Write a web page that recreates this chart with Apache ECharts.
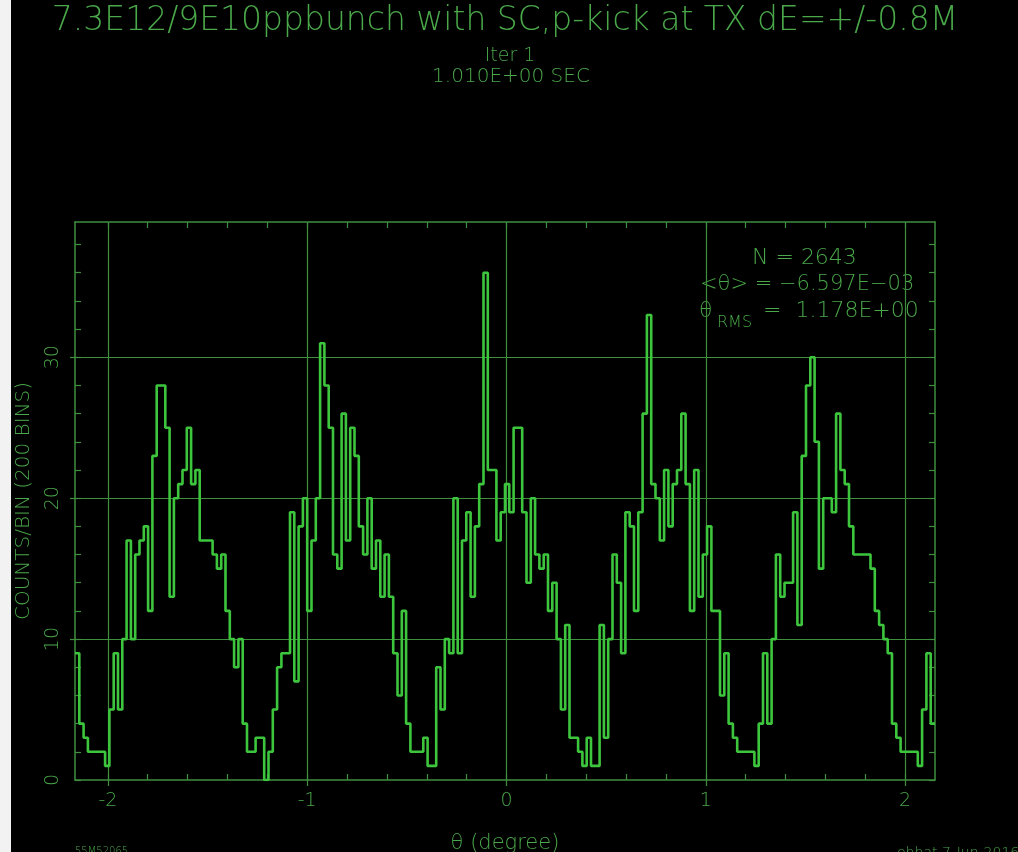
<!DOCTYPE html>
<html>
<head>
<meta charset="utf-8">
<script src="https://cdn.jsdelivr.net/npm/echarts@6/dist/echarts.min.js"></script>
<style>
  html, body { margin: 0; padding: 0; background: #000; overflow: hidden; }
  #chart { width: 1018px; height: 852px; }
</style>
</head>
<body>
<div id="chart"></div>
<script>
// Particle counts per theta bin (200 bins)
const binCounts = [
  9, 4, 3, 2, 2, 2, 2, 1, 5, 9, 5, 10, 17, 10, 16, 17, 18, 12, 23, 28, 28, 25, 13, 20, 21,
  22, 25, 21, 22, 17, 17, 17, 16, 15, 16, 12, 10, 8, 10, 4, 2, 2, 3, 3, 0, 2, 5, 8, 9, 9,
  19, 7, 18, 20, 12, 17, 20, 31, 28, 25, 16, 15, 26, 17, 25, 23, 18, 16, 20, 15, 17, 13, 16, 13, 9,
  6, 12, 4, 2, 2, 2, 3, 1, 1, 8, 5, 10, 9, 20, 9, 17, 19, 13, 18, 21, 36, 22, 22, 17, 19,
  21, 19, 25, 25, 19, 14, 20, 16, 15, 16, 12, 14, 10, 5, 11, 3, 3, 2, 1, 3, 1, 1, 11, 3, 10,
  16, 14, 9, 19, 18, 12, 19, 26, 33, 21, 20, 17, 22, 18, 21, 22, 26, 21, 12, 22, 13, 16, 18, 12, 12,
  6, 9, 4, 3, 2, 2, 2, 2, 1, 4, 9, 4, 10, 16, 13, 14, 14, 19, 11, 23, 28, 30, 24, 15, 20, 20,
  19, 26, 22, 21, 18, 16, 16, 16, 16, 15, 12, 11, 10, 9, 4, 3, 2, 2, 2, 2, 1, 5, 9, 4
];

// Histogram range in theta (degree) and count-axis maximum
const thetaRange = [-2.165, 2.15];
const countMax = 39.6;

// Tick positions
const xMajorTicks = [-2, -1, 0, 1, 2];
const xMinorTicks = [-2, -1.8, -1.6, -1.4, -1.2, -1, -0.8, -0.6, -0.4, -0.2, 0,
                     0.2, 0.4, 0.6, 0.8, 1, 1.2, 1.4, 1.6, 1.8, 2];
const yMajorTicks = [0, 10, 20, 30];
const yGridTicks = [10, 20, 30];
const yMinorTicks = [0, 2, 4, 6, 8, 10, 12, 14, 16, 18, 20, 22, 24, 26, 28, 30, 32, 34, 36, 38];

// Texts
const titleText = '7.3E12/9E10ppbunch with SC,p-kick at TX dE=+/-0.8M';
const iterText = 'Iter 1';
const timeText = '1.010E+00 SEC';
const statN = 'N = 2643';
const statMean = '<\u03b8> = \u22126.597E\u221203';
const statRms = '=  1.178E+00';
const xName = '\u03b8 (degree)';
const yName = 'COUNTS/BIN (200 BINS)';
const footLeft = '55M52065';
const footRight = 'ebbat 7-Jun-2016 17:';

// Step outline: one point at each bin's left edge, plus the closing right edge
const nBins = binCounts.length;
const binWidth = (thetaRange[1] - thetaRange[0]) / nBins;
const stepData = binCounts.map((c, i) => [thetaRange[0] + i * binWidth, c]);
stepData.push([thetaRange[1], binCounts[nBins - 1]]);

const FONT = '"DejaVu Sans", "Liberation Sans", sans-serif';
const TXT = '#4aa84a';
const GRID = '#3f8f3f';
const LINE = '#3dc63d';

const chart = echarts.init(document.getElementById('chart'), null, {
  renderer: 'canvas', width: 1018, height: 852
});

const baseX = { type: 'value', min: thetaRange[0], max: thetaRange[1], gridIndex: 0 };
const baseY = { type: 'value', min: 0, max: countMax, gridIndex: 0 };

function txt(x, y, text, size, align) {
  return {
    type: 'text', x: x, y: y, silent: true,
    style: { text: text, fill: TXT, font: '200 ' + size + 'px ' + FONT, textAlign: align || 'left', textVerticalAlign: 'middle' }
  };
}

chart.setOption({
  backgroundColor: '#000',
  animation: false,
  grid: { left: 75, right: 83, top: 222, bottom: 72, outerBoundsMode: 'none', containLabel: false },
  xAxis: [
    Object.assign({}, baseX, {
      position: 'bottom',
      axisLine: { show: true, onZero: false, lineStyle: { color: GRID, width: 1.5 } },
      axisTick: { show: true, inside: true, length: 6, customValues: xMinorTicks, lineStyle: { color: GRID, width: 1.2 } },
      axisLabel: { show: true, customValues: xMajorTicks, margin: 12, color: TXT, fontFamily: FONT, fontWeight: 200, fontSize: 19 },
      splitLine: { show: false },
      name: xName, nameLocation: 'middle', nameGap: 53,
      nameTextStyle: { color: TXT, fontFamily: FONT, fontWeight: 200, fontSize: 21 }
    }),
    Object.assign({}, baseX, {
      position: 'top',
      axisLine: { show: true, onZero: false, lineStyle: { color: GRID, width: 1.5 } },
      axisTick: { show: true, inside: true, length: 6, customValues: xMinorTicks, lineStyle: { color: GRID, width: 1.2 } },
      axisLabel: { show: false },
      splitLine: { show: false }
    }),
    Object.assign({}, baseX, {
      position: 'bottom',
      axisLine: { show: false, onZero: false },
      axisTick: { show: true, inside: false, length: 6, customValues: xMajorTicks, lineStyle: { color: GRID, width: 1.2 } },
      axisLabel: { show: false },
      splitLine: { show: true, lineStyle: { color: GRID, width: 1.2 } }
    })
  ],
  yAxis: [
    Object.assign({}, baseY, {
      position: 'left',
      axisLine: { show: true, onZero: false, lineStyle: { color: GRID, width: 1.5 } },
      axisTick: { show: true, inside: true, length: 6, customValues: yMinorTicks, lineStyle: { color: GRID, width: 1.2 } },
      axisLabel: { show: true, customValues: yMajorTicks, rotate: 90, margin: 12, color: TXT, fontFamily: FONT, fontWeight: 200, fontSize: 19 },
      splitLine: { show: false },
      name: yName, nameLocation: 'middle', nameGap: 41, nameRotate: 90,
      nameTextStyle: { color: TXT, fontFamily: FONT, fontWeight: 200, fontSize: 20 }
    }),
    Object.assign({}, baseY, {
      position: 'right',
      axisLine: { show: true, onZero: false, lineStyle: { color: GRID, width: 1.5 } },
      axisTick: { show: true, inside: true, length: 6, customValues: yMinorTicks, lineStyle: { color: GRID, width: 1.2 } },
      axisLabel: { show: false },
      splitLine: { show: false }
    }),
    Object.assign({}, baseY, {
      position: 'left',
      axisLine: { show: false, onZero: false },
      axisTick: { show: true, inside: false, length: 5, customValues: yGridTicks, lineStyle: { color: GRID, width: 1.2 } },
      axisLabel: { show: false },
      splitLine: { show: true, lineStyle: { color: GRID, width: 1.2 } }
    })
  ],
  series: [{
    type: 'line',
    xAxisIndex: 0,
    yAxisIndex: 0,
    step: 'end',
    symbol: 'none',
    data: stepData,
    lineStyle: { color: LINE, width: 2.6 },
    z: 5
  }],
  graphic: [
    { type: 'rect', left: 0, top: 0, silent: true, shape: { width: 11, height: 852 }, style: { fill: '#f2f2f2' } },
    txt(505, 21, titleText, 33, 'center'),
    txt(510, 56, iterText, 19, 'center'),
    txt(511, 77, timeText, 20, 'center'),
    txt(752, 258, statN, 22),
    txt(700, 285, statMean, 21),
    txt(699, 311, '\u03b8', 22),
    txt(717, 323, 'RMS', 16),
    txt(763, 311, statRms, 22),
    txt(75, 851, footLeft, 10),
    txt(897, 853, footRight, 14)
  ]
});
</script>
</body>
</html>
